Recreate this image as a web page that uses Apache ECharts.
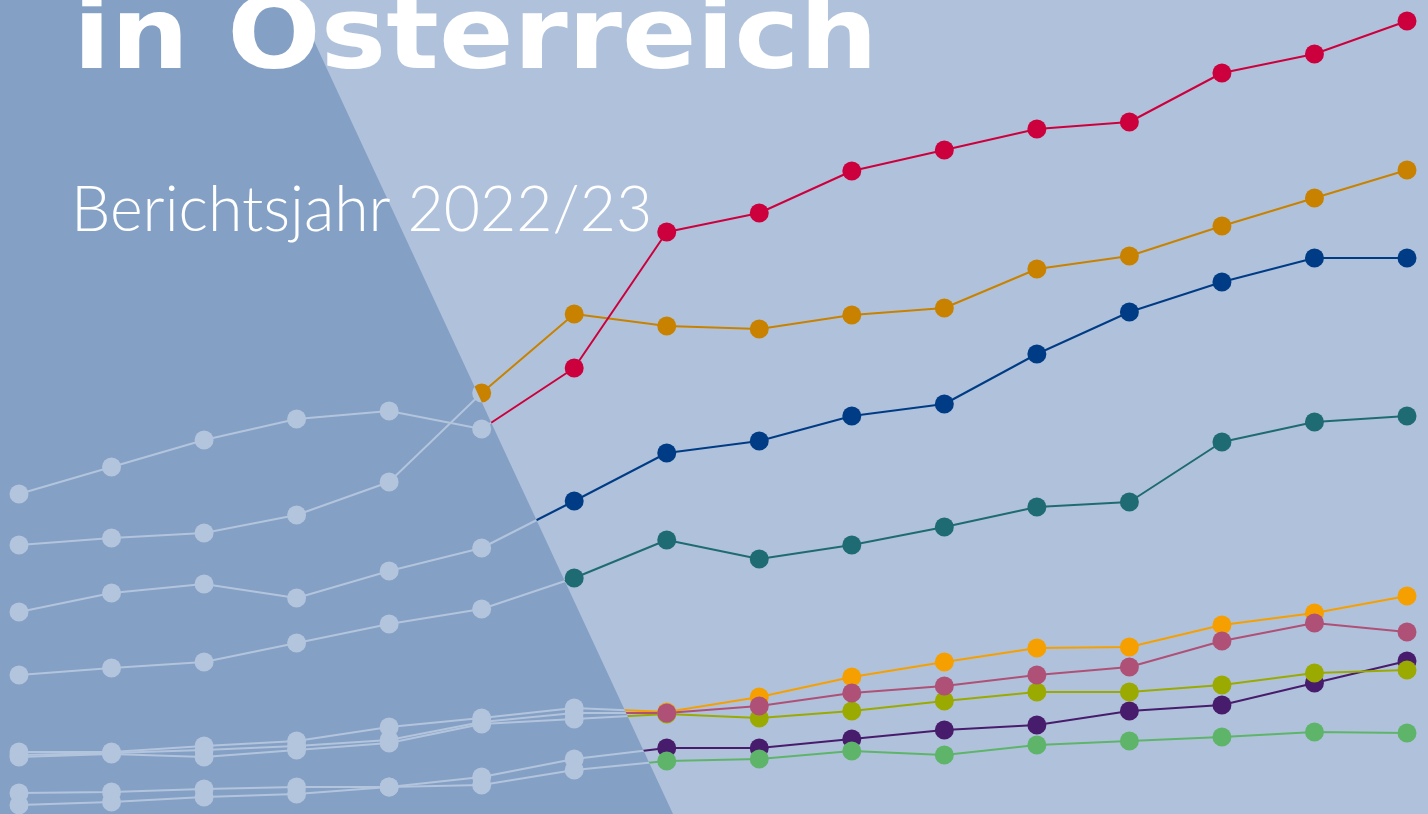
<!doctype html>
<html>
<head>
    <meta charset="UTF-8">
    <title>in Österreich – Berichtsjahr 2022/23</title>
    <script src="https://cdn.jsdelivr.net/npm/echarts@6/dist/echarts.min.js"></script>
    <style>
        html, body { margin: 0; padding: 0; width: 1428px; height: 814px; overflow: hidden; background: #B0C2DB; }
        .layer { position: absolute; left: 0; top: 0; width: 1428px; height: 814px; }
        /* linker, dunklerer Keil */
        #shade { clip-path: polygon(0 0, 295px 0, 673px 814px, 0 814px); }
        #titles { pointer-events: none; }
    </style>
</head>
<body>
<div id="main" class="layer"></div>
<div id="shade" class="layer"></div>
<div id="titles" class="layer"></div>

<script type="text/javascript">
    // Berichtsjahre (x-Achse)
    var jahre = ['2007/08', '2008/09', '2009/10', '2010/11', '2011/12', '2012/13', '2013/14', '2014/15',
        '2015/16', '2016/17', '2017/18', '2018/19', '2019/20', '2020/21', '2021/22', '2022/23'];

    // Werte je Reihe
    var rot    = [320, 347, 374, 395, 403, 385, 446, 582, 601, 643, 664, 685, 692, 741, 760, 793];
    var ocker  = [269, 276, 281, 299, 332, 421, 500, 488, 485, 499, 506, 545, 558, 588, 616, 644];
    var blau   = [202, 221, 230, 216, 243, 266, 313, 361, 373, 398, 410, 460, 502, 532, 556, 556];
    var petrol = [139, 146, 152, 171, 190, 205, 236, 274, 255, 269, 287, 307, 312, 372, 392, 398];
    var gelb   = [62, 62, 68, 73, 87, 96, 106, 102, 117, 137, 152, 166, 167, 189, 201, 218];
    var rosa   = [59, 61, 64, 68, 74, 92, 101, 101, 108, 121, 128, 139, 147, 173, 191, 182];
    var oliv   = [57, 60, 57, 64, 71, 90, 95, 100, 96, 103, 113, 122, 122, 129, 141, 144];
    var lila   = [21, 22, 25, 27, 27, 37, 55, 66, 66, 75, 84, 89, 103, 109, 131, 153];
    var gruen  = [9, 12, 17, 20, 27, 29, 44, 53, 55, 63, 59, 69, 73, 77, 82, 81];

    // Zeichenreihenfolge: unten zuerst
    var reihen = [
        {data: lila, color: '#481C6D'},
        {data: gruen, color: '#5EB56A'},
        {data: gelb, color: '#F5A000'},
        {data: oliv, color: '#9BAA00'},
        {data: rosa, color: '#AF5077'},
        {data: petrol, color: '#1F6B73'},
        {data: blau, color: '#003C85'},
        {data: ocker, color: '#C88200'},
        {data: rot, color: '#CC003D'}
    ];

    function makeOption(bg, pale) {
        return {
            backgroundColor: bg,
            animation: false,
            grid: {left: 19, right: 21, top: 0, bottom: 0},
            xAxis: {
                type: 'category',
                data: jahre,
                boundaryGap: false,
                show: false
            },
            yAxis: {
                type: 'value',
                min: 0,
                max: 814,
                show: false
            },
            series: reihen.map(function (r) {
                var c = pale || r.color;
                return {
                    type: 'line',
                    data: r.data,
                    symbol: 'circle',
                    symbolSize: 19,
                    silent: true,
                    lineStyle: {color: c, width: 2},
                    itemStyle: {color: c}
                };
            })
        };
    }

    var myChart = echarts.init(document.getElementById('main'));
    myChart.setOption(makeOption('#B0C2DB', null));

    var shadeChart = echarts.init(document.getElementById('shade'));
    shadeChart.setOption(makeOption('#84A0C5', '#B3C4DD'));

    // Titel oben drauf
    var titleChart = echarts.init(document.getElementById('titles'));
    titleChart.setOption({
        animation: false,
        graphic: [
            {
                type: 'text',
                x: 73,
                y: -8,
                scaleX: 1.1,
                style: {
                    text: 'in Österreich',
                    fill: '#fff',
                    fontSize: 100,
                    fontWeight: 'bold',
                    fontFamily: 'DejaVu Sans',
                    verticalAlign: 'top'
                }
            },
            {
                type: 'text',
                x: 71,
                y: 179,
                style: {
                    text: 'Berichtsjahr 2022/23',
                    fill: '#fff',
                    fontSize: 62.5,
                    fontWeight: 300,
                    fontFamily: 'Lato',
                    verticalAlign: 'top'
                }
            }
        ]
    });
</script>
</body>
</html>
